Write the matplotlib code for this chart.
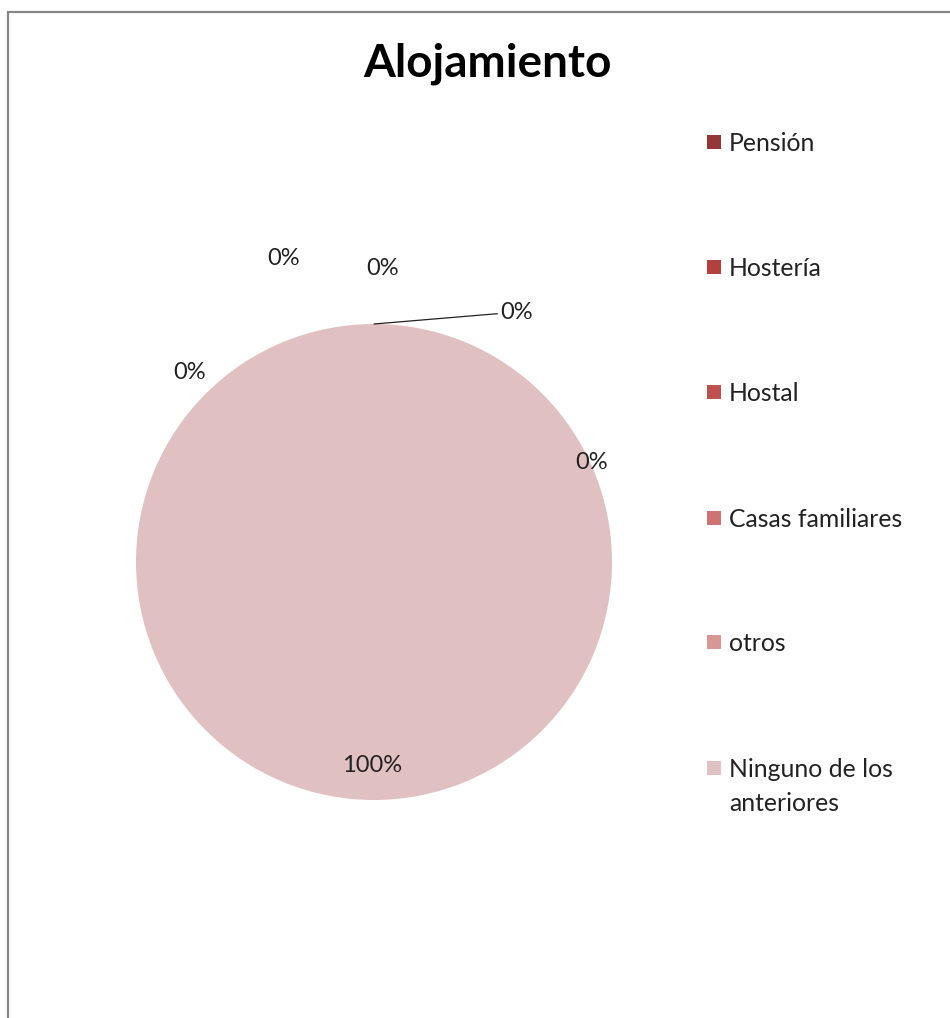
import matplotlib
matplotlib.use("Agg")
import matplotlib.pyplot as plt
from matplotlib.patches import Rectangle
import numpy as np

plt.rcParams['font.family'] = ['Lato', 'DejaVu Sans']

# data
categories = ["Pensión", "Hostería", "Hostal", "Casas familiares", "otros",
              "Ninguno de los\nanteriores"]
values = [0, 0, 0, 0, 0, 100]
colors = ["#953735", "#B0413E", "#C0504D", "#CD7371", "#D99694", "#E1C0C1"]

# label positions (in pie-radius units), picked to match the original layout
label_pos = [(0.53, 1.05), (0.034, 1.235), (-0.378, 1.277),
             (-0.777, 0.798), (0.916, 0.42), (-0.01, -0.853)]

W, H = 950, 1018
fig = plt.figure(figsize=(W / 100, H / 100), dpi=100)

# chart border (grey frame running off the right and bottom edges)
fig.patches.append(Rectangle((8 / W, -0.1), 1.2, 1 - 12 / H + 0.1,
                             transform=fig.transFigure, fill=False,
                             edgecolor="#878787", linewidth=1.6))

cx, cy, R = 374, 562, 238
ax = fig.add_axes([(cx - R) / W, (H - cy - R) / H, 2 * R / W, 2 * R / H])
wedges, _ = ax.pie(values, colors=colors, startangle=90, counterclock=False,
                   radius=1, wedgeprops=dict(linewidth=0))
ax.set_xlim(-1, 1)
ax.set_ylim(-1, 1)
ax.set_aspect("equal")
ax.axis("off")

total = sum(values)
for i, (v, (lx, ly)) in enumerate(zip(values, label_pos)):
    txt = f"{v / total * 100:.0f}%"
    if i == 0:
        w = wedges[i]
        ang = np.deg2rad((w.theta1 + w.theta2) / 2)
        ax.annotate(txt, xy=(np.cos(ang), np.sin(ang)), xytext=(lx, ly),
                    ha="left", va="center", fontsize=17, color="#222222",
                    arrowprops=dict(arrowstyle="-", color="#222222", lw=0.9,
                                    shrinkA=0, shrinkB=0),
                    annotation_clip=False)
    else:
        ax.text(lx, ly, txt, ha="center", va="center", fontsize=17,
                color="#222222")

fig.text(487 / W, 1 - 64 / H, "Alojamiento", ha="center", va="center",
         fontsize=33, fontweight="bold", color="black")

# legend
row_y = [142, 267, 392, 518, 642, 768]
for lab, col, y in zip(categories, colors, row_y):
    fig.patches.append(Rectangle((707 / W, 1 - (y + 7) / H), 14 / W, 14 / H,
                                 transform=fig.transFigure, facecolor=col,
                                 edgecolor="none"))
    fig.text(729 / W, 1 - (y - 10) / H, lab, ha="left", va="top",
             fontsize=17.8, color="#222222", linespacing=1.6)

fig.savefig("out.png", dpi=100, facecolor="white")
